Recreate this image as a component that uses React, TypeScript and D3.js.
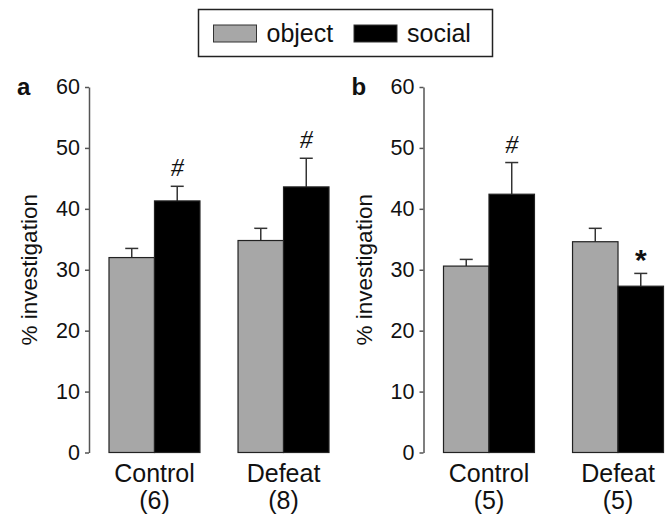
import { useEffect, useRef } from 'react';
import * as d3 from 'd3';

const groups = ['Control', 'Defeat'];
const series = ['object', 'social'];
const yTicks = [0, 10, 20, 30, 40, 50, 60];

// panel a
const nA = ['(6)', '(8)'];
const objectA = [32.0, 34.8];
const objectErrA = [1.5, 2.0];
const socialA = [41.3, 43.6];
const socialErrA = [2.4, 4.7];
const marksA = ['#', '#'];

// panel b
const nB = ['(5)', '(5)'];
const objectB = [30.6, 34.6];
const objectErrB = [1.1, 2.2];
const socialB = [42.4, 27.3];
const socialErrB = [5.2, 2.1];
const marksB = ['#', '*'];

const colors: Record<string, string> = { object: '#a7a7a7', social: '#000000' };
const FONT = '"Liberation Sans", Arial, sans-serif';

interface Panel {
  label: string;
  axisX: number;
  n: string[];
  obj: number[];
  objErr: number[];
  soc: number[];
  socErr: number[];
  marks: string[];
}

const panels: Panel[] = [
  { label: 'a', axisX: 89, n: nA, obj: objectA, objErr: objectErrA, soc: socialA, socErr: socialErrA, marks: marksA },
  { label: 'b', axisX: 423.5, n: nB, obj: objectB, objErr: objectErrB, soc: socialB, socErr: socialErrB, marks: marksB },
];

export default function App() {
  const svgRef = useRef<SVGSVGElement>(null);

  useEffect(() => {
    if (!svgRef.current) return;
    const svg = d3.select(svgRef.current);
    svg.selectAll('*').remove();

    svg.append('rect').attr('width', 672).attr('height', 517).attr('fill', '#fff');

    // Legend
    const legend = svg.append('g');
    legend
      .append('rect')
      .attr('x', 198.5)
      .attr('y', 9.5)
      .attr('width', 294)
      .attr('height', 47)
      .attr('fill', '#fff')
      .attr('stroke', '#222')
      .attr('stroke-width', 1.5);
    const legendX = [213.5, 354];
    series.forEach((s, i) => {
      legend
        .append('rect')
        .attr('x', legendX[i])
        .attr('y', 25)
        .attr('width', 43)
        .attr('height', 17)
        .attr('fill', colors[s])
        .attr('stroke', '#333')
        .attr('stroke-width', 1);
      legend
        .append('text')
        .attr('x', legendX[i] + 53)
        .attr('y', 42)
        .attr('font-family', FONT)
        .attr('font-size', 25)
        .attr('fill', '#111')
        .text(s);
    });

    const y = d3.scaleLinear().domain([0, 60]).range([452.5, 87]);

    panels.forEach((p) => {
      const g = svg.append('g');

      const x0 = d3
        .scaleBand()
        .domain(groups)
        .range([p.axisX + 20, p.axisX + 240])
        .paddingInner(0.295)
        .paddingOuter(0);
      const x1 = d3.scaleBand().domain(series).range([0, x0.bandwidth()]);

      // Y axis
      const axis = g
        .append('g')
        .attr('transform', `translate(${p.axisX},0)`)
        .call(d3.axisLeft(y).tickValues(yTicks).tickSize(4).tickSizeOuter(0).tickPadding(5));
      axis.select('.domain').attr('stroke', '#555').attr('stroke-width', 1.5);
      axis.selectAll('.tick line').attr('stroke', '#555').attr('stroke-width', 1.5);
      axis
        .selectAll('.tick text')
        .attr('fill', '#111')
        .attr('font-family', FONT)
        .attr('font-size', 21.5);

      // panel label
      g.append('text')
        .attr('x', p.axisX - 72)
        .attr('y', 95)
        .attr('font-family', FONT)
        .attr('font-size', 24)
        .attr('font-weight', 'bold')
        .attr('fill', '#111')
        .text(p.label);

      // y label
      g.append('text')
        .attr('transform', `translate(${p.axisX - 52},${y(30)}) rotate(-90)`)
        .attr('text-anchor', 'middle')
        .attr('font-family', FONT)
        .attr('font-size', 22.5)
        .attr('fill', '#111')
        .text('% investigation');

      groups.forEach((grp, i) => {
        const gx = x0(grp) || 0;
        const vals = [p.obj[i], p.soc[i]];
        const errs = [p.objErr[i], p.socErr[i]];
        series.forEach((s, j) => {
          const bx = gx + (x1(s) || 0);
          const cx = bx + x1.bandwidth() / 2;
          // error bar (upper only)
          g.append('line')
            .attr('x1', cx)
            .attr('x2', cx)
            .attr('y1', y(vals[j]))
            .attr('y2', y(vals[j] + errs[j]))
            .attr('stroke', '#333')
            .attr('stroke-width', 1.5);
          g.append('line')
            .attr('x1', cx - 6.5)
            .attr('x2', cx + 6.5)
            .attr('y1', y(vals[j] + errs[j]))
            .attr('y2', y(vals[j] + errs[j]))
            .attr('stroke', '#333')
            .attr('stroke-width', 1.5);
          g.append('rect')
            .attr('x', bx)
            .attr('y', y(vals[j]))
            .attr('width', x1.bandwidth())
            .attr('height', y(0) - y(vals[j]))
            .attr('fill', colors[s])
            .attr('stroke', '#222')
            .attr('stroke-width', 1.2);
        });

        // significance mark above social bar
        const sx = gx + (x1('social') || 0) + x1.bandwidth() / 2;
        const top = y(p.soc[i] + p.socErr[i]);
        const star = p.marks[i] === '*';
        g.append('text')
          .attr('x', sx)
          .attr('y', star ? top - 3 : top - 10)
          .attr('text-anchor', 'middle')
          .attr('font-family', star ? FONT : '"Liberation Serif", serif')
          .attr('font-size', star ? 30 : 26)
          .attr('font-weight', star ? 'bold' : 'normal')
          .attr('font-style', star ? 'normal' : 'italic')
          .attr('fill', '#111')
          .text(p.marks[i]);

        // category labels
        const lx = gx + x0.bandwidth() / 2;
        g.append('text')
          .attr('x', lx)
          .attr('y', 482)
          .attr('text-anchor', 'middle')
          .attr('font-family', FONT)
          .attr('font-size', 25)
          .attr('fill', '#111')
          .text(grp);
        g.append('text')
          .attr('x', lx)
          .attr('y', 509)
          .attr('text-anchor', 'middle')
          .attr('font-family', FONT)
          .attr('font-size', 25)
          .attr('fill', '#111')
          .text(p.n[i]);
      });
    });
  }, []);

  return (
    <div style={{ position: 'absolute', left: 0, top: 0 }}>
      <svg ref={svgRef} width={672} height={517} style={{ display: 'block' }} />
    </div>
  );
}
